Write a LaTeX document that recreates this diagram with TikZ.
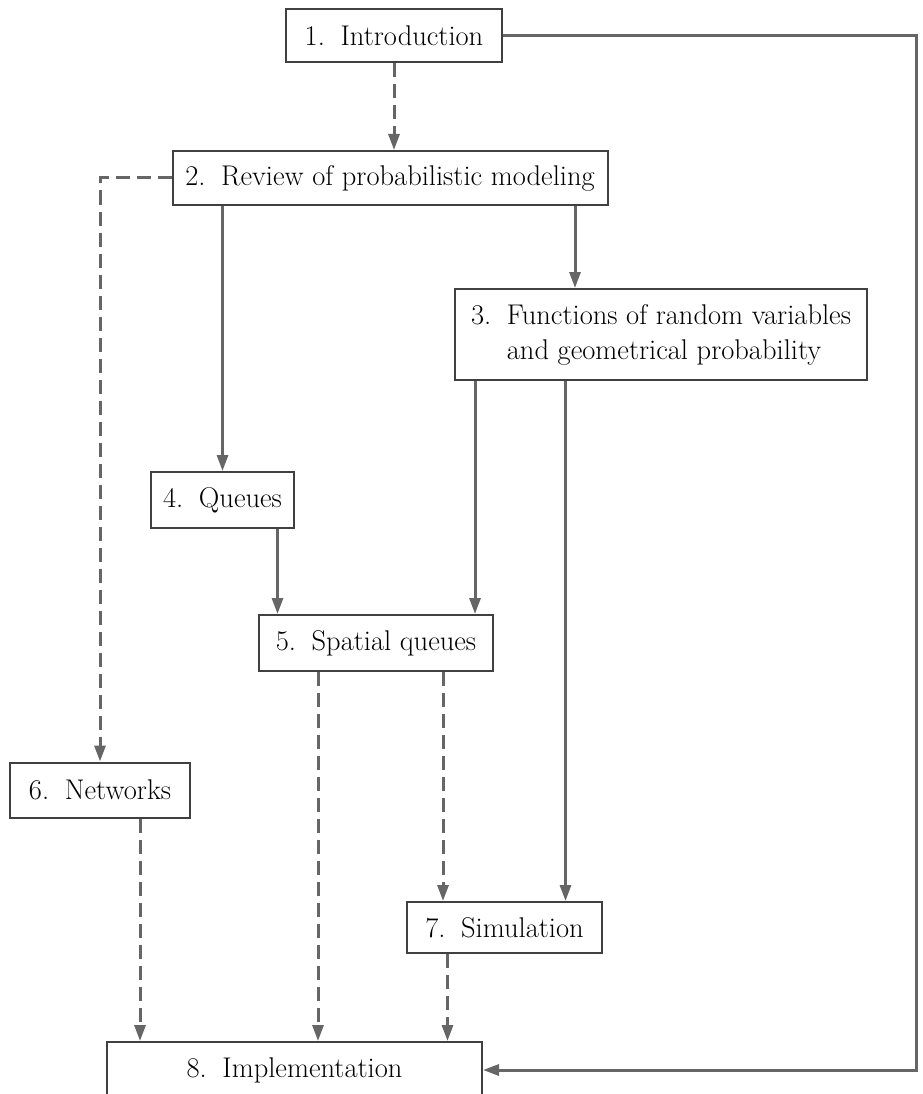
\documentclass[tikz,border=0pt]{standalone}
\usetikzlibrary{arrows.meta,positioning}

\newcommand{\numgap}{\hspace{.55em}}

\begin{document}
\begin{tikzpicture}[
  x=1pt, y=-1pt,
  font=\fontsize{28.5}{35}\selectfont,
  box/.style={draw=black!75, line width=2pt, fill=white, inner sep=0pt,
  minimum height=54pt},
  link/.style={draw=black!60, line width=3pt, -{Triangle[length=16pt,width=11pt]}},
  dashlink/.style={link, dash pattern=on 14pt off 7pt}]
\useasboundingbox (0,0) rectangle (922,1094);
\node[box, minimum width=216pt, minimum height=53pt] (intro) at (394,35.5) {1.\numgap Introduction};
\node[box, minimum width=435pt] (review) at (390,178) {2.\numgap Review of probabilistic modeling};
\node[box, minimum width=412pt, minimum height=91pt, align=left] (funcs) at (661,334.5)
  {3.\numgap Functions of random variables\\\phantom{3.\numgap}and geometrical probability};
\node[box, minimum width=143pt, minimum height=56pt] (queues) at (222.5,500) {4.\numgap Queues};
\node[box, minimum width=234pt, minimum height=56pt] (spatial) at (376,643) {5.\numgap Spatial queues};
\node[box, minimum width=180pt, minimum height=55pt] (networks) at (100,790) {6.\numgap Networks};
\node[box, minimum width=195pt, minimum height=51pt] (sim) at (504.5,927.5) {7.\numgap Simulation};
\node[box, minimum width=375pt, minimum height=56pt] (impl) at (294.5,1070) {8.\numgap Implementation};
\coordinate (rim) at (916,0);
% solid links
\draw[link] (intro.east) -- (intro.east -| rim) -- (rim |- impl.east) -- (impl.east);
\draw[link] (queues.north |- review.south) -- (queues.north);
\draw[link] ([xshift=185pt]review.south) -- ([xshift=185pt]review.south |- funcs.north);
\draw[link] ([xshift=99pt]spatial.north |- funcs.south) -- ([xshift=99pt]spatial.north);
\draw[link] ([xshift=61pt]sim.north |- funcs.south) -- ([xshift=61pt]sim.north);
\draw[link] ([xshift=55pt]queues.south) -- ([xshift=55pt]queues.south |- spatial.north);
% dashed links
\draw[dashlink] (intro.south) -- (intro.south |- review.north);
\draw[dashlink] (review.west) -| (networks.north);
\draw[dashlink] ([xshift=-58pt]spatial.south) -- ([xshift=-58pt]spatial.south |- impl.north);
\draw[dashlink] ([xshift=67pt]spatial.south) -- ([xshift=67pt]spatial.south |- sim.north);
\draw[dashlink] ([xshift=40pt]networks.south) -- ([xshift=40pt]networks.south |- impl.north);
\draw[dashlink] ([xshift=-57pt]sim.south) -- ([xshift=-57pt]sim.south |- impl.north);
\end{tikzpicture}
\end{document}
